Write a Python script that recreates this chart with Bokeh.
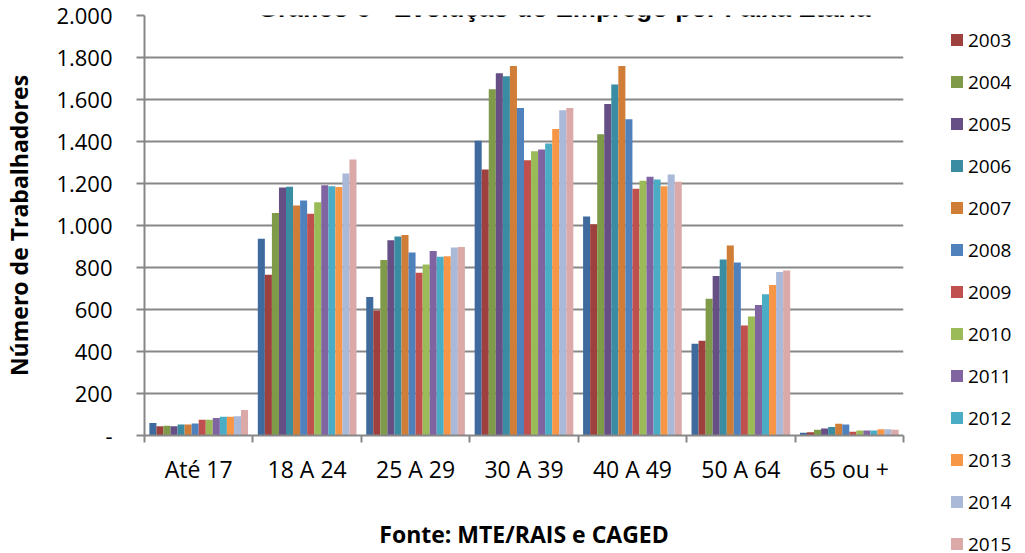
from bokeh.plotting import figure
from bokeh.models import Range1d, FixedTicker, Label, Div
from bokeh.layouts import row
from bokeh.embed import file_html
from bokeh.resources import INLINE

categories = ["Até 17", "18 A 24", "25 A 29", "30 A 39", "40 A 49", "50 A 64", "65 ou +"]
years = ["2002", "2003", "2004", "2005", "2006", "2007", "2008",
         "2009", "2010", "2011", "2012", "2013", "2014", "2015"]

v2002 = [60, 937, 660, 1403, 1043, 437, 13]
v2003 = [44, 765, 595, 1267, 1006, 451, 16]
v2004 = [47, 1059, 836, 1649, 1435, 651, 27]
v2005 = [44, 1181, 930, 1725, 1579, 760, 33]
v2006 = [52, 1184, 948, 1711, 1671, 838, 40]
v2007 = [52, 1095, 955, 1760, 1760, 905, 56]
v2008 = [57, 1119, 871, 1560, 1506, 824, 52]
v2009 = [75, 1056, 775, 1311, 1175, 524, 18]
v2010 = [75, 1111, 814, 1354, 1213, 567, 24]
v2011 = [83, 1192, 878, 1362, 1232, 622, 24]
v2012 = [89, 1187, 851, 1390, 1219, 673, 24]
v2013 = [89, 1183, 854, 1460, 1187, 717, 30]
v2014 = [92, 1248, 895, 1549, 1243, 778, 30]
v2015 = [122, 1314, 898, 1560, 1208, 786, 27]

series = [v2002, v2003, v2004, v2005, v2006, v2007, v2008,
          v2009, v2010, v2011, v2012, v2013, v2014, v2015]

colors = ["#3F6A9E", "#9E403D", "#7F9A48", "#664F84", "#3A8CA2", "#CF7D37", "#4F81BD",
          "#C0504D", "#9BBB59", "#8064A2", "#4BACC6", "#F79646", "#AAB9D8", "#DAA9A8"]

y_ticks = list(range(0, 2001, 200))

GRAY = "#878787"
FONT = "Open Sans"

p = figure(width=925, height=553, x_range=Range1d(0, 7), y_range=Range1d(0, 2000),
           output_backend="svg", toolbar_location=None,
           min_border_left=142, min_border_right=22, min_border_top=15, min_border_bottom=118)
p.outline_line_color = None
p.background_fill_color = "white"

bw = 0.065
n = len(years)
for j, (vals, col) in enumerate(zip(series, colors)):
    xs = [i + 0.5 + (j - (n - 1) / 2) * bw for i in range(len(categories))]
    p.vbar(x=xs, top=vals, bottom=0, width=bw, fill_color=col, line_color=None)

# Y axis
yax = p.yaxis[0]
yax.ticker = FixedTicker(ticks=y_ticks)
yax.major_label_overrides = {t: ("-" if t == 0 else f"{t:,}".replace(",", ".")) for t in y_ticks}
yax.axis_line_color = GRAY
yax.axis_line_width = 2
yax.major_tick_line_color = GRAY
yax.major_tick_line_width = 2
yax.major_tick_out = 8
yax.major_tick_in = 0
yax.minor_tick_line_color = None
yax.major_label_text_font = FONT
yax.major_label_text_font_size = "22px"
yax.major_label_text_color = "black"
yax.major_label_standoff = 24
yax.axis_label = "Número de Trabalhadores"
yax.axis_label_text_font = FONT
yax.axis_label_text_font_style = "bold"
yax.axis_label_text_font_size = "23px"
yax.axis_label_text_color = "black"
yax.axis_label_standoff = 18

# X axis
xax = p.xaxis[0]
xax.ticker = FixedTicker(ticks=[i + 0.5 for i in range(len(categories))],
                         minor_ticks=list(range(len(categories) + 1)))
xax.major_label_overrides = {i + 0.5: c for i, c in enumerate(categories)}
xax.axis_line_color = GRAY
xax.axis_line_width = 2
xax.major_tick_out = 0
xax.major_tick_in = 0
xax.major_tick_line_color = None
xax.minor_tick_out = 7
xax.minor_tick_in = 0
xax.minor_tick_line_color = GRAY
xax.minor_tick_line_width = 2
xax.major_label_text_font = FONT
xax.major_label_text_font_size = "23px"
xax.major_label_text_color = "black"
xax.major_label_standoff = 10
xax.axis_label = "Fonte: MTE/RAIS e CAGED"
xax.axis_label_text_font = FONT
xax.axis_label_text_font_style = "bold"
xax.axis_label_text_font_size = "23px"
xax.axis_label_text_color = "black"
xax.axis_label_standoff = 30

p.xgrid.visible = False
p.ygrid.ticker = FixedTicker(ticks=y_ticks)
p.ygrid.grid_line_color = GRAY
p.ygrid.grid_line_width = 2

title = Label(x=3.87, y=2038, text="Gráfico 6 - Evolução do Emprego por Faixa Etária",
              text_align="center", text_baseline="alphabetic",
              text_font="Liberation Sans", text_font_style="bold", text_font_size="26px",
              text_color="black")
p.add_layout(title)

# Legend column to the right of the plot
rows_html = "".join(
    '<div style="height:42px;display:flex;align-items:center;">'
    f'<span style="display:inline-block;width:12px;height:12px;background:{col};margin-right:5px;"></span>'
    f'<span>{yr}</span></div>'
    for yr, col in zip(years, colors)
)
legend_html = (
    '<div style="position:relative;width:100px;height:553px;overflow:hidden;">'
    '<div style="position:absolute;top:-28px;left:21px;'
    "font-family:'Open Sans';font-size:19px;line-height:1;color:#000;\">"
    f'{rows_html}</div></div>'
)
legend_div = Div(text=legend_html, width=100, height=553, styles={"overflow": "hidden"})

layout = row(p, legend_div)
open("out.html", "w").write(file_html(layout, INLINE))
